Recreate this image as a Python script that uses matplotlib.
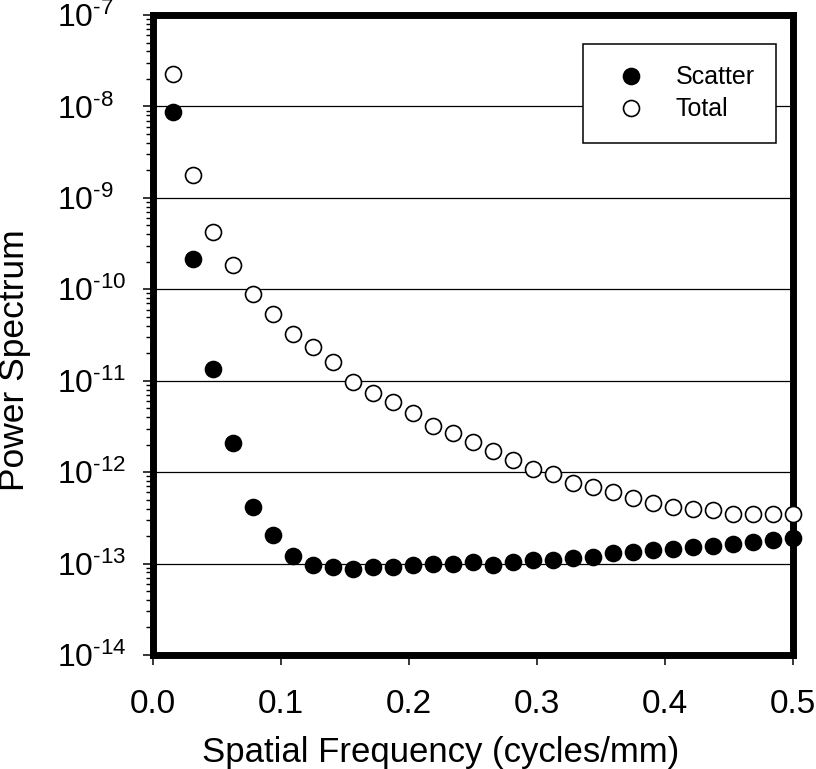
import matplotlib
matplotlib.use("Agg")
import matplotlib.pyplot as plt
from matplotlib.ticker import NullFormatter

plt.rcParams['font.family'] = ['Liberation Sans', 'DejaVu Sans']
plt.rcParams['mathtext.fontset'] = 'custom'
plt.rcParams['mathtext.rm'] = 'Liberation Sans'
plt.rcParams['mathtext.default'] = 'regular'

# frequences (cycles/mm)
freq = [0.0156, 0.0313, 0.0469, 0.0625, 0.0781, 0.0938, 0.1094, 0.125,
        0.1406, 0.1563, 0.1719, 0.1875, 0.2031, 0.2188, 0.2344, 0.25,
        0.2656, 0.2813, 0.2969, 0.3125, 0.3281, 0.3438, 0.3594, 0.375,
        0.3906, 0.4063, 0.4219, 0.4375, 0.4531, 0.4688, 0.4844, 0.5]

scatter_ps = [8.7e-9, 2.14e-10, 1.34e-11, 2.08e-12, 4.16e-13, 2.06e-13, 1.21e-13, 9.7e-14,
              9.2e-14, 8.75e-14, 9.2e-14, 9.2e-14, 9.7e-14, 9.9e-14, 1.0e-13, 1.04e-13,
              9.7e-14, 1.04e-13, 1.1e-13, 1.1e-13, 1.16e-13, 1.18e-13, 1.31e-13, 1.33e-13,
              1.41e-13, 1.44e-13, 1.52e-13, 1.55e-13, 1.64e-13, 1.73e-13, 1.82e-13, 1.91e-13]

total_ps = [2.25e-8, 1.77e-9, 4.2e-10, 1.86e-10, 8.85e-11, 5.35e-11, 3.24e-11, 2.33e-11,
            1.6e-11, 9.7e-12, 7.3e-12, 5.8e-12, 4.4e-12, 3.2e-12, 2.67e-12, 2.13e-12,
            1.7e-12, 1.36e-12, 1.08e-12, 9.5e-13, 7.6e-13, 6.9e-13, 6.1e-13, 5.2e-13,
            4.6e-13, 4.16e-13, 3.96e-13, 3.86e-13, 3.5e-13, 3.5e-13, 3.5e-13, 3.5e-13]

xticks = [0.0, 0.1, 0.2, 0.3, 0.4, 0.5]
xtick_labels = ['0.0', '0.1', '0.2', '0.3', '0.4', '0.5']
yticks = [1e-14, 1e-13, 1e-12, 1e-11, 1e-10, 1e-9, 1e-8, 1e-7]
ytick_labels = [r'$10^{\text{-14}}$', r'$10^{\text{-13}}$', r'$10^{\text{-12}}$',
                r'$10^{\text{-11}}$', r'$10^{\text{-10}}$', r'$10^{\text{-9}}$',
                r'$10^{\text{-8}}$', r'$10^{\text{-7}}$']

W, H = 816, 769
fig = plt.figure(figsize=(W / 100, H / 100), dpi=100)
ax = fig.add_axes([153 / W, 1 - 655 / H, 640 / W, 640 / H])

ax.plot(freq, scatter_ps, 'o', ms=11.5, mfc='black', mec='black', mew=1.2,
        label='Scatter', clip_on=False, zorder=3)
ax.plot(freq, total_ps, 'o', ms=11.5, mfc='white', mec='black', mew=1.2,
        label='Total', clip_on=False, zorder=3)

ax.set_yscale('log')
ax.set_xlim(0, 0.5)
ax.set_ylim(1e-14, 1e-7)

ax.set_xticks(xticks)
ax.set_xticklabels(xtick_labels, fontsize=24)
ax.set_yticks(yticks)
ax.set_yticklabels(ytick_labels, fontsize=23, ha='left')
ax.yaxis.set_minor_formatter(NullFormatter())

ax.tick_params(axis='x', which='major', direction='out', length=7.5, width=1.1, pad=17)
ax.tick_params(axis='y', which='major', direction='out', length=7.2, width=1.1, pad=62)
ax.tick_params(axis='y', which='minor', direction='out', length=4.8, width=1.0)
ax.tick_params(axis='x', which='minor', bottom=False)

for s in ax.spines.values():
    s.set_linewidth(5)

ax.grid(True, which='major', axis='y', color='black', lw=0.9)
ax.set_axisbelow(True)

leg = ax.legend(loc='upper right', bbox_to_anchor=(776 / W, 1 - 44 / H),
                bbox_transform=fig.transFigure, borderaxespad=0, numpoints=1,
                fontsize=18, fancybox=False, framealpha=1, edgecolor='black',
                borderpad=0.85, handlelength=2.1, handletextpad=0.75,
                labelspacing=0.33)
leg.get_frame().set_linewidth(1.1)

fig.text(441 / W, 1 - 762 / H, 'Spatial Frequency (cycles/mm)', fontsize=25,
         ha='center', va='baseline')
fig.text(15 / W, 1 - 360 / H, 'Power Spectrum', fontsize=25.5, rotation=90,
         ha='center', va='center')

fig.savefig('out.png', dpi=100, facecolor='white')
